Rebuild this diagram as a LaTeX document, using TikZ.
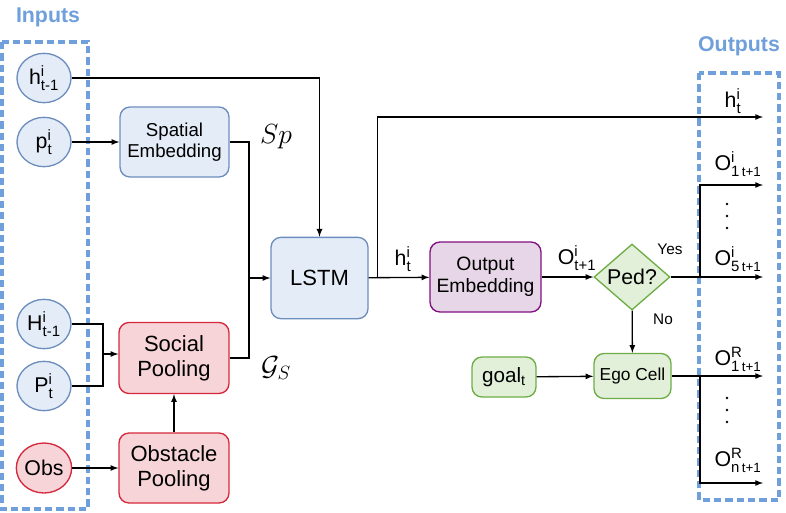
\documentclass[tikz,border=0pt]{standalone}
\usepackage{amsmath}
\usepackage{fontspec}
\setmainfont{Liberation Sans}
\usetikzlibrary{shapes.geometric}

\definecolor{inblue}{HTML}{6C8EBF}
\definecolor{infill}{HTML}{E4ECF7}
\definecolor{redline}{HTML}{D6283C}
\definecolor{redfill}{HTML}{F6D4D7}
\definecolor{purpline}{HTML}{800F80}
\definecolor{purpfill}{HTML}{E6D6E7}
\definecolor{greenline}{HTML}{6EAD45}
\definecolor{greenfill}{HTML}{E2F0D9}
\definecolor{dashblue}{HTML}{6FA0DC}

\newcommand{\supsub}[2]{\ensuremath{^{\text{#1}}_{\text{#2}}}}
\newcommand{\outsub}[3]{O\ensuremath{^{\text{#1}}_{\text{#2}\,\text{\fontsize{10}{12}\selectfont #3}}}}

\begin{document}
\begin{tikzpicture}[x=0.75pt, y=-0.75pt, >=latex, line width=1pt,
  inp/.style={ellipse, draw=inblue, fill=infill, minimum width=40.5pt,
    minimum height=37pt, inner sep=0pt, font=\fontsize{16}{18}\selectfont},
  blk/.style={rectangle, rounded corners=7.5pt, align=center, inner sep=2pt},
  bluebox/.style={draw=inblue, fill=infill},
  redbox/.style={draw=redline, fill=redfill},
  frame/.style={draw=dashblue, line width=2.4pt, dash pattern=on 5.5pt off 3pt},
  title/.style={text=dashblue, font=\fontsize{16}{18}\selectfont\bfseries},
  lbl/.style={font=\fontsize{16}{18}\selectfont, inner sep=0pt},
  math/.style={font=\fontsize{21}{24}\selectfont, inner sep=0pt}]

  \useasboundingbox (0,0) rectangle (786,512);

  % Inputs

  \node[title] (intitle) at (48,17) {Inputs};
  \draw[frame] (2,42) rectangle (88,509);
  \node[inp] (hprev) at (44,78) {h\supsub{i}{t-1}};
  \node[inp] (pos) at (44,142) {p\supsub{i}{t}};
  \node[inp] (Hprev) at (44,324) {H\supsub{i}{t-1}};
  \node[inp] (Pos) at (44,386) {P\supsub{i}{t}};
  \node[inp, draw=redline, fill=redfill, minimum height=37.5pt] (obs) at (44,468) {Obs};

  % Embedding and pooling

  \node[blk, bluebox, minimum width=81.75pt, minimum height=52.5pt,
    font=\fontsize{14}{16}\selectfont] (spatial) at (174.5,142) {Spatial\\Embedding};
  \node[blk, redbox, minimum width=82.5pt, minimum height=53.25pt,
    font=\fontsize{16.5}{19}\selectfont] (social) at (174,358) {Social\\Pooling};
  \node[blk, redbox, minimum width=82.5pt, minimum height=52.5pt,
    font=\fontsize{16.5}{19}\selectfont] (obstacle) at (174,468) {Obstacle\\Pooling};
  \node[blk, bluebox, minimum width=72.75pt, minimum height=61pt,
    font=\fontsize{16.5}{19}\selectfont] (lstm) at (319.5,278) {LSTM};

  \node[math] (sp) at (276,137) {$Sp$};
  \node[math] (gs) at (276,368) {$\mathcal{G}_S$};

  \draw[->] (hprev.east) -| (lstm.north);
  \draw[->] (pos) -- (spatial);
  \coordinate (merge) at (249,278);
  \draw (spatial.east) -| (merge);
  \draw (social.east) -| (merge);
  \draw[->] (merge) -- (lstm.west);
  \coordinate (join) at (103,354);
  \draw (Hprev.east) -| (join);
  \draw (Pos.east) -| (join);
  \draw[->] (join) -- (join -| social.west);
  \draw[->] (obs) -- (obstacle);
  \draw[->] (obstacle) -- (social);

  % Output side

  \node[blk, draw=purpline, fill=purpfill, minimum width=83.25pt, minimum height=52.5pt,
    font=\fontsize{14.5}{16.5}\selectfont] (outemb) at (485.5,277) {Output\\Embedding};
  \node[diamond, draw=greenline, fill=greenfill, aspect=1.15, inner sep=1pt,
    minimum width=57pt, minimum height=49.5pt,
    font=\fontsize{16}{18}\selectfont] (ped) at (632,277) {Ped?};
  \node[blk, draw=greenline, fill=greenfill, minimum width=57.75pt, minimum height=33.75pt,
    font=\fontsize{13}{15}\selectfont] (ego) at (632.5,376) {Ego Cell};
  \node[blk, draw=greenline, fill=greenfill, minimum width=48pt, minimum height=30pt,
    font=\fontsize{15.5}{17}\selectfont] (goal) at (504,377) {goal\ensuremath{_{\text{t}}}};

  \node[lbl] (hlbl) at (403,259) {h\supsub{i}{t}};
  \node[lbl] (olbl) at (577,258) {O\supsub{i}{t+1}};
  \node[lbl, font=\fontsize{11.5}{13}\selectfont] (yes) at (670,249) {Yes};
  \node[lbl, font=\fontsize{11.5}{13}\selectfont] (no) at (663,319) {No};

  \draw[->] (lstm) -- (outemb);
  \path (lstm.east) ++(9,0) coordinate (split);
  \coordinate (hout) at (763,117);
  \draw[->] (split) |- (hout);
  \draw[->] (outemb) -- (ped);
  \draw[->] (ped) -- (ego);
  \draw[->] (goal) -- (ego);

  % Outputs

  \node[title] (outtitle) at (739,46) {Outputs};
  \draw[frame] (699,73) rectangle (779,500);
  \coordinate (bus) at (700,0);
  \coordinate (o1) at (763,185);
  \coordinate (on) at (763,483);
  \draw[->] (ped.east) -- (ped.east -| o1);
  \draw[->] (ped.east -| bus) |- (o1);
  \draw[->] (ego.east) -- (ego.east -| on);
  \draw[->] (ego.east -| bus) |- (on);

  \node[lbl] (hnext) at (733,101) {h\supsub{i}{t}};
  \node[lbl] (o1lbl) at (738,164) {\outsub{i}{1}{t+1}};
  \node[lbl] (o5lbl) at (738,259) {\outsub{i}{5}{t+1}};
  \node[lbl] (r1lbl) at (738,359) {\outsub{R}{1}{t+1}};
  \node[lbl] (rnlbl) at (738,460) {\outsub{R}{n}{t+1}};
  \foreach \y in {204,216,228,398,410,422}
    \fill (727,\y) circle (1.1pt);
\end{tikzpicture}
\end{document}
